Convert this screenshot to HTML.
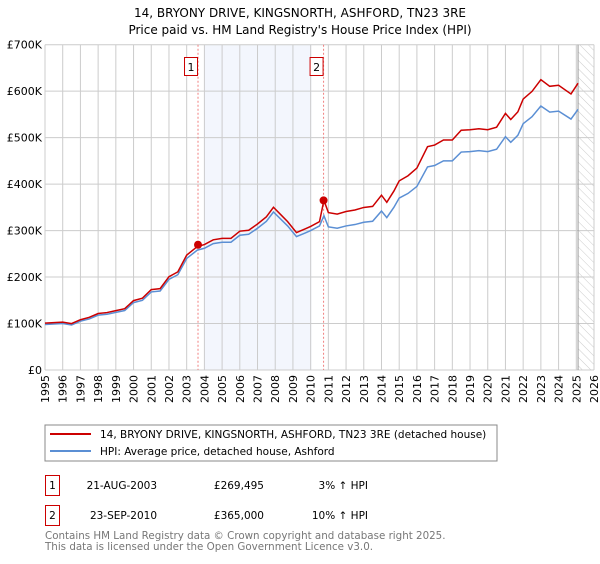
<!DOCTYPE html>
<html><head><meta charset="utf-8"><style>
body{margin:0;width:600px;height:560px;background:#fff;font-family:"DejaVu Sans","Liberation Sans",sans-serif;overflow:hidden}
svg text{font-family:"DejaVu Sans","Liberation Sans",sans-serif}
</style></head><body>
<svg id="c" width="600" height="560">
<defs><pattern id="hatch" width="6" height="6" patternUnits="userSpaceOnUse" patternTransform="rotate(-45)"><line x1="0" y1="0" x2="0" y2="6" stroke="#ccc" stroke-width="1"/></pattern></defs>
<text x="300" y="17" text-anchor="middle" font-size="12">14, BRYONY DRIVE, KINGSNORTH, ASHFORD, TN23 3RE</text>
<text x="300" y="34" text-anchor="middle" font-size="12">Price paid vs. HM Land Registry's House Price Index (HPI)</text>
<g id="plot"></g>
<rect x="45" y="425" width="452" height="36" fill="#fff" stroke="#888"/>
<line x1="50" y1="434" x2="91" y2="434" stroke="#cc0000" stroke-width="2"/>
<text x="100" y="438" font-size="10.5">14, BRYONY DRIVE, KINGSNORTH, ASHFORD, TN23 3RE (detached house)</text>
<line x1="50" y1="451" x2="91" y2="451" stroke="#5b8fd4" stroke-width="2"/>
<text x="100" y="455" font-size="10.5">HPI: Average price, detached house, Ashford</text>
<g>
<rect x="45.5" y="475.5" width="14" height="20" fill="none" stroke="#cc0000"/>
<text x="52.5" y="489" text-anchor="middle" font-size="10.5">1</text>
<text x="157" y="489" text-anchor="end" font-size="10.5">21-AUG-2003</text>
<text x="264" y="489" text-anchor="end" font-size="10.5">£269,495</text>
<text x="368" y="489" text-anchor="end" font-size="10.5">3% ↑ HPI</text></g>
<g>
<rect x="45.5" y="505.5" width="14" height="20" fill="none" stroke="#cc0000"/>
<text x="52.5" y="519" text-anchor="middle" font-size="10.5">2</text>
<text x="157" y="519" text-anchor="end" font-size="10.5">23-SEP-2010</text>
<text x="264" y="519" text-anchor="end" font-size="10.5">£365,000</text>
<text x="368" y="519" text-anchor="end" font-size="10.5">10% ↑ HPI</text></g>
<text x="45" y="539" font-size="10.3" fill="#777">Contains HM Land Registry data © Crown copyright and database right 2025.</text>
<text x="45" y="550" font-size="10.3" fill="#777">This data is licensed under the Open Government Licence v3.0.</text>
</svg>
<script>
const hpiYears=[1995,1995.5,1996,1996.5,1997,1997.5,1998,1998.5,1999,1999.5,2000,2000.5,2001,2001.5,2002,2002.5,2003,2003.6,2004,2004.5,2005,2005.5,2006,2006.5,2007,2007.5,2007.9,2008.3,2008.7,2009.2,2009.7,2010,2010.5,2010.75,2011,2011.5,2012,2012.5,2013,2013.5,2014,2014.3,2014.7,2015,2015.5,2016,2016.6,2017,2017.5,2018,2018.5,2019,2019.5,2020,2020.5,2021,2021.3,2021.7,2022,2022.5,2023,2023.5,2024,2024.7,2025.1];
const hpiValues=[98,99,100,97,105,110,118,120,124,128,145,150,168,170,195,205,240,258,262,272,275,275,290,292,305,320,340,325,310,287,295,300,310,332,308,305,310,313,318,320,342,328,350,370,380,395,437,440,450,450,469,470,472,470,475,502,490,505,530,545,568,555,557,540,561];
const saleDates=[2003.64,2010.73];
const salePrices=[269495,365000];
const saleFactors=[1.03,1.10];
const yTicks=[0,100,200,300,400,500,600,700];
const xTicks=[1995,1996,1997,1998,1999,2000,2001,2002,2003,2004,2005,2006,2007,2008,2009,2010,2011,2012,2013,2014,2015,2016,2017,2018,2019,2020,2021,2022,2023,2024,2025,2026];
const X0=45,X1=594,Y0=370,Y1=44.7;
const xs=y=>X0+(y-1995)/(2026-1995)*(X1-X0);
const ys=v=>Y0-v/700*(Y0-Y1);
const NS="http://www.w3.org/2000/svg";
const g=document.getElementById('plot');
function mk(t,a,name){const e=document.createElementNS(NS,t);for(const k in a)e.setAttribute(k,a[k]);


g.appendChild(e);return e;}
mk('rect',{x:xs(2004),y:Y1,width:xs(2010.05)-xs(2004),height:Y0-Y1,fill:'#eef2fc',opacity:0.7},'sale-period-shade');
mk('rect',{x:xs(2025.1),y:Y1,width:X1-xs(2025.1),height:Y0-Y1,fill:'url(#hatch)'},'forecast-hatch');
xTicks.forEach(t=>{mk('line',{x1:xs(t),x2:xs(t),y1:Y1,y2:Y0,stroke:'#ccc'},'x-gridline');
const tx=mk('text',{x:0,y:0,'font-size':11,'text-anchor':'end',transform:`translate(${xs(t)+4},${Y0+5}) rotate(-90)`},'x-tick-label');tx.textContent=t;});
yTicks.forEach(t=>{mk('line',{x1:X0,x2:X1,y1:ys(t),y2:ys(t),stroke:'#ccc'},'y-gridline');
const tx=mk('text',{x:X0-3,y:ys(t)+4,'font-size':11,'text-anchor':'end'},'y-tick-label');tx.textContent=t===0?'£0':'£'+t+'K';});
mk('line',{x1:xs(2025.1),x2:xs(2025.1),y1:Y1,y2:Y0,stroke:'#999'},'today-line');
saleDates.forEach((d,i)=>{mk('line',{x1:xs(d),x2:xs(d),y1:Y1,y2:Y0,stroke:'#f08080','stroke-dasharray':'2,2'},'sale-marker-line');
mk('rect',{x:xs(d)-13.5,y:57.5,width:13,height:18,fill:'#fff',stroke:'#cc0000'},'sale-label-box');
const tx=mk('text',{x:xs(d)-7,y:71,'font-size':11,'text-anchor':'middle'},'sale-label');tx.textContent=i+1;});
mk('polyline',{points:hpiYears.map((y,i)=>xs(y)+','+ys(hpiValues[i])).join(' '),fill:'none',stroke:'#5b8fd4','stroke-width':1.5},'hpi-line');
mk('polyline',{points:hpiYears.map((y,i)=>xs(y)+','+ys(hpiValues[i]*(y<saleDates[1]?saleFactors[0]:saleFactors[1]))).join(' '),fill:'none',stroke:'#cc0000','stroke-width':1.5},'price-line');
saleDates.forEach((d,i)=>mk('circle',{cx:xs(d),cy:ys(salePrices[i]/1000),r:4,fill:'#cc0000'},'sale-point'));
</script>
</body></html>
